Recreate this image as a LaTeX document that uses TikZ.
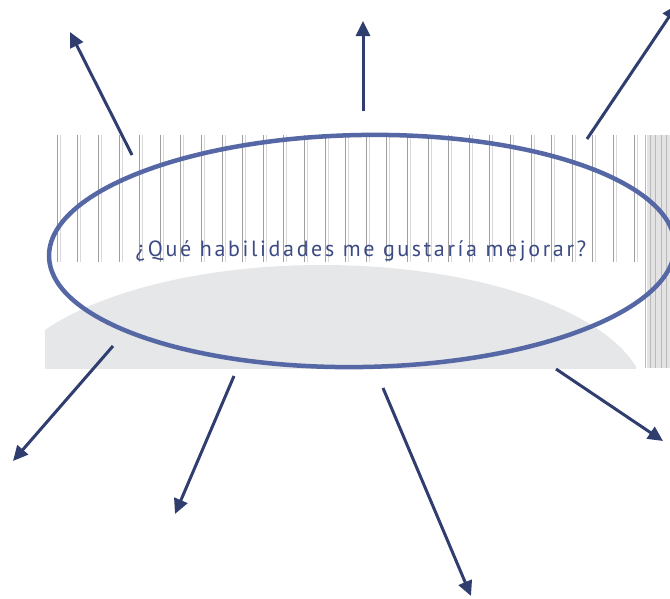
\documentclass[tikz,border=0pt]{standalone}
\usepackage{fontspec}
\usetikzlibrary{arrows.meta}
\newfontfamily\qfont[LetterSpace=12]{PT Sans}
\definecolor{ringblue}{HTML}{5567A4}
\definecolor{arrowblue}{HTML}{2F3E6F}
\definecolor{textblue}{HTML}{3B4A84}
\definecolor{domegray}{HTML}{E6E7E9}
\begin{document}
\begin{tikzpicture}[x=1pt,y=-1pt,
  spoke/.style={draw=arrowblue, line width=3pt, -{Triangle[length=15pt,width=14pt]}},
  ring/.style={draw=ringblue, line width=4.5pt},
  stripe/.style={draw=gray!75, line width=0.6pt},
  faint/.style={draw=gray!30, line width=0.6pt},
  label/.style={text=textblue, font=\qfont\fontsize{22}{26}\selectfont, anchor=base, inner sep=0pt}]
\useasboundingbox (0,0) rectangle (670,598);
% striped background
\foreach \k in {0,...,28} {
  \draw[stripe] ({57+20.6*\k},135) -- ({57+20.6*\k},262);
  \draw[faint] ({60+20.6*\k},135) -- ({60+20.6*\k},262);
}
\fill[gray!22] (647,135) rectangle (670,368);
\foreach \x in {645,650,655,661,666} { \draw[gray!55, line width=0.7pt] (\x,135) -- (\x,368); }
% grey dome
\begin{scope}
  \clip (45,265) rectangle (636,368);
  \fill[domegray] (322,400) ellipse [x radius=324, y radius=135];
\end{scope}
% text
\node[label] (q) at (361,256) {¿Qué habilidades me gustaría mejorar?};
% ring
\draw[ring, rotate around={1:(362,251)}] (362,251) ellipse [x radius=313, y radius=116];
% spokes
\coordinate (s1) at (132,155); \coordinate (e1) at (70,32);
\coordinate (s2) at (363,111); \coordinate (e2) at (363,21);
\coordinate (s3) at (587,139); \coordinate (e3) at (677,5);
\coordinate (s4) at (113,346); \coordinate (e4) at (13,461);
\coordinate (s5) at (234,376); \coordinate (e5) at (175,514);
\coordinate (s6) at (383,388); \coordinate (e6) at (471,596);
\coordinate (s7) at (556,369); \coordinate (e7) at (663,441);
\foreach \i in {1,...,7} { \draw[spoke] (s\i) -- (e\i); }
\end{tikzpicture}
\end{document}
